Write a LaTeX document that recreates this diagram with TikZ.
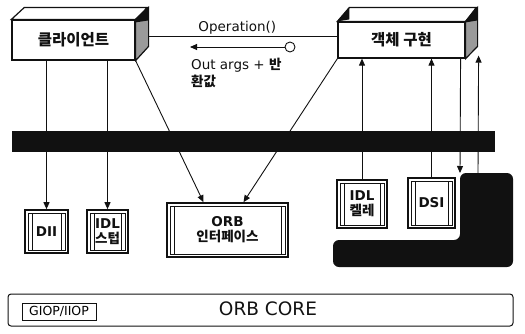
\documentclass[tikz,border=0pt]{standalone}
\usepackage{fontspec}
\setmainfont{DejaVu Sans}
\newfontfamily\krfont{Noto Sans CJK KR}
\usetikzlibrary{arrows.meta,positioning,calc}
\definecolor{ink}{HTML}{111111}
\definecolor{shade}{HTML}{9A9A9A}
\tikzset{
  face/.style={draw=ink,line width=1.2pt,fill=white,inner sep=0pt},
  title/.style={face,font=\krfont\bfseries\fontsize{15.5}{17}\selectfont,text=ink},
  lbl/.style={font=\fontsize{13.5}{17}\selectfont,text=ink,inner sep=1pt},
  modbox/.style={draw=ink,line width=1.6pt,fill=white,inner sep=0pt,align=center,
    font=\bfseries\fontsize{13.5}{15}\selectfont,text=ink,
    path picture={
      \draw[line width=.6pt] ($(path picture bounding box.north west)+(3pt,-3pt)$) rectangle ($(path picture bounding box.south east)+(-3pt,3pt)$);
      \draw[line width=.6pt] ($(path picture bounding box.north west)+(7pt,-3pt)$) -- ($(path picture bounding box.south west)+(7pt,3pt)$);
      \draw[line width=.6pt] ($(path picture bounding box.north east)+(-7pt,-3pt)$) -- ($(path picture bounding box.south east)+(-7pt,3pt)$);
    }},
  ln/.style={draw=ink,line width=.9pt},
  ar/.style={-{Triangle[length=7pt,width=6pt]},draw=ink,line width=.9pt},
}

\begin{document}
\begin{tikzpicture}[x=1pt,y=-1pt]
  \useasboundingbox (0,0) rectangle (525,333);
  % ── client ──
  \node[title,minimum width=123pt,minimum height=40pt] (client) at (73.5,40) {클라이언트};
  \draw[face] (client.north west) -- ++(13,-12) -- ++(123,0) -- (client.north east) -- cycle;
  \draw[face,fill=shade] (client.north east) -- ++(13,-12) -- ++(0,39) -- (client.south east) -- cycle;
  \fill[ink] (client.north east) -- ++(13,-12) -- ++(0,13) -- ++(-13,2) -- cycle;
  % ── object implementation ──
  \node[title,minimum width=127pt,minimum height=36pt] (impl) at (401.5,40) {객체 구현};
  \draw[face] (impl.north west) -- ++(12,-14) -- ++(127,0) -- (impl.north east) -- cycle;
  \fill[ink] (impl.north west) -- ++(12,-14) -- ++(0,12) -- cycle;
  \draw[face,fill=shade] (impl.north east) -- ++(12,-14) -- ++(0,39) -- (impl.south east) -- cycle;
  \fill[ink] (impl.north east) -- ++(12,-14) -- ++(0,13) -- ++(-12,2) -- cycle;
  % ── request / reply ──
  \draw[ln] ($(client.east)+(13,-4)$) -- node[lbl,above,pos=.47] {Operation()} ($(impl.west)+(0,-4)$);
  \node[draw=ink,line width=.9pt,circle,minimum size=10pt,inner sep=0pt] (ret) at (290,47) {};
  \coordinate (retend) at (190,47);
  \draw[ar] (ret.west) -- (retend);
  \node[lbl,anchor=north west,align=left] (outargs) at (190,57) {Out args + {\krfont\bfseries 반}\\{\krfont\bfseries 환값}};
  % ── bus ──
  \node[fill=ink,minimum width=483pt,minimum height=21pt,inner sep=0pt] (bar) at (253.5,141.5) {};
  % ── modules ──
  \node[modbox,minimum width=43pt,minimum height=43pt] (dii) at (46.5,231.5) {DII};
  \node[modbox,minimum width=41pt,minimum height=43pt] (stub) at (107.5,231.5) {IDL\\{\krfont\bfseries 스텁}};
  \node[modbox,minimum width=121pt,minimum height=54pt] (orbif) at (227.5,230) {ORB\\{\krfont\bfseries 인터페이스}};
  \node[modbox,minimum width=50pt,minimum height=48pt] (skel) at (362,204) {IDL\\{\krfont\bfseries 켈레}};
  \node[modbox,minimum width=47pt,minimum height=50pt] (dsi) at (431.5,203) {DSI};
  \fill[ink,rounded corners=6pt] (460,173) -- (513,173) -- (513,267) -- (333,267) -- (333,240) -- (460,240) -- cycle;
  \coordinate (blobL) at (460,173);
  \coordinate (blobR) at (478,173);
  % ── connectors ──
  \draw[ar] (client.south -| dii.north) -- (dii.north);
  \draw[ar] (client.south -| stub.north) -- (stub.north);
  \draw[ar] (client.south east) -- ([xshift=-24pt]orbif.north);
  \draw[ar] (impl.south west) -- ([xshift=16pt]orbif.north);
  \draw[ar] (skel.north) -- (skel.north |- impl.south);
  \draw[ar] (dsi.north) -- (dsi.north |- impl.south);
  \draw[ar] ($(impl.south east)+(-5,0)$) -- (blobL);
  \draw[ar] (blobR) -- ($(impl.south east)+(13,-3)$);
  % ── core ──
  \node[draw=ink,line width=1pt,rounded corners=3pt,minimum width=505pt,minimum height=32pt] (core) at (260.5,310) {};
  \node[draw=ink,line width=1pt,minimum width=74pt,minimum height=17pt,inner sep=0pt,font=\fontsize{12.5}{14}\selectfont] (giop) at (59,311.5) {GIOP/IIOP};
  \node[font=\fontsize{18.5}{20}\selectfont,text=ink] (corelbl) at (268,309) {ORB CORE};
\end{tikzpicture}
\end{document}
